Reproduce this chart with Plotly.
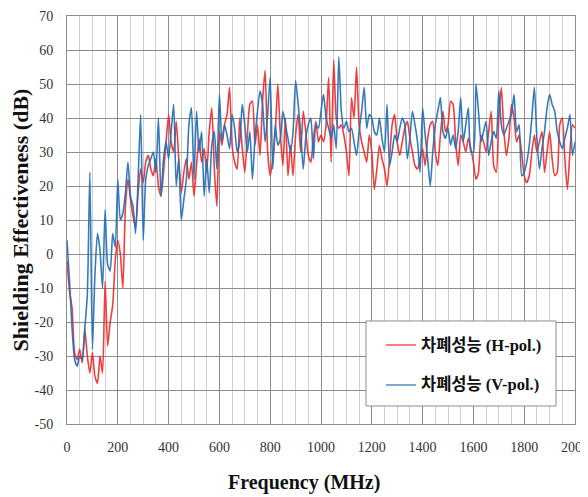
import plotly.graph_objects as go

freq_mhz = list(range(0, 2001, 10))

h_pol = [
    -2, -11, -16, -29, -31, -28, -32, -22, -30, -35,
    -29, -36, -38, -30, -35, -8, -27, -20, -15, -2,
    4, 0, -10, 14, 22, 16, 11, 8, 18, 25,
    21, 27, 29, 25, 23, 28, 20, 17, 24, 33,
    41, 33, 30, 39, 28, 18, 24, 28, 22, 27,
    17, 26, 34, 27, 31, 24, 36, 43, 25, 14,
    36, 32, 38, 41, 49, 32, 27, 25, 40, 31,
    24, 35, 44, 45, 32, 38, 29, 45, 54, 30,
    23, 28, 36, 50, 35, 26, 40, 23, 32, 23,
    35, 41, 30, 42, 36, 29, 27, 34, 39, 33,
    35, 33, 38, 52, 27, 57, 40, 37, 38, 35,
    30, 23, 46, 40, 55, 38, 33, 30, 27, 35,
    30, 19, 25, 32, 28, 25, 20, 28, 38, 41,
    33, 29, 33, 37, 39, 34, 30, 26, 25, 28,
    31, 26, 34, 38, 39, 30, 26, 35, 42, 36,
    38, 45, 44, 33, 26, 35, 33, 30, 34, 31,
    27, 22, 24, 35, 33, 30, 36, 42, 26, 24,
    40, 49, 36, 29, 34, 44, 40, 33, 35, 30,
    23, 21, 23, 30, 35, 30, 33, 36, 24, 30,
    36, 28, 23, 24, 38, 40, 28, 19, 30, 38, 37,
]

v_pol = [
    4, -8, -22, -31, -33, -30, -31, -22, -12, 24,
    -28, -6, 6, 1, -10, 13, -3, -5, 6, 2,
    22, 10, 12, 18, 27, 17, 14, 6, 22, 41,
    4, 22, 26, 28, 30, 24, 40, 17, 28, 33,
    28, 36, 44, 20, 28, 10, 16, 22, 38, 43,
    22, 42, 30, 36, 17, 28, 18, 32, 36, 25,
    47, 33, 38, 35, 31, 41, 37, 30, 33, 44,
    38, 30, 36, 22, 34, 42, 48, 44, 33, 41,
    52, 25, 38, 32, 34, 42, 38, 34, 30, 36,
    51, 44, 36, 25, 34, 38, 40, 28, 38, 37,
    42, 47, 40, 37, 34, 38, 31, 58, 42, 37,
    39, 36, 37, 33, 29, 36, 42, 49, 37, 41,
    40, 36, 35, 40, 34, 30, 44, 26, 30, 35,
    33, 37, 40, 38, 28, 34, 42, 38, 33, 24,
    43, 35, 28, 20, 30, 38, 42, 46, 36, 34,
    37, 32, 35, 31, 36, 46, 33, 38, 43, 30,
    30, 50, 42, 33, 36, 39, 29, 33, 36, 34,
    48, 38, 35, 37, 39, 41, 47, 36, 38, 23,
    24, 27, 32, 40, 49, 34, 25, 31, 36, 43,
    47, 44, 42, 36, 33, 31, 34, 37, 41, 29, 33,
]

x_ticks = list(range(0, 2001, 200))
x_tick_labels = [str(v) for v in x_ticks]
y_ticks = list(range(-50, 71, 10))
y_tick_labels = [str(v) for v in y_ticks]

name_h = "차폐성능 (H-pol.)"
name_v = "차폐성능 (V-pol.)"
color_h = "rgba(238,40,40,0.9)"
color_v = "rgba(36,112,182,0.92)"

serif = "Liberation Serif, Times New Roman, Noto Sans CJK KR, serif"

fig = go.Figure()
fig.add_trace(go.Scatter(
    x=freq_mhz, y=h_pol, mode="lines", name=name_h, showlegend=False,
    line=dict(color=color_h, width=1.6, shape="spline", smoothing=0.6),
))
fig.add_trace(go.Scatter(
    x=freq_mhz, y=v_pol, mode="lines", name=name_v, showlegend=False,
    line=dict(color=color_v, width=1.6, shape="spline", smoothing=0.6),
))

# legend box drawn by hand (paper coordinates)
fig.add_shape(type="rect", xref="paper", yref="paper",
              x0=0.5886, x1=0.9626, y0=0.0441, y1=0.2525,
              line=dict(color="#8c8c8c", width=1), fillcolor="white", layer="above")
for yv, col, nm in [(0.1936, color_h, name_h), (0.0956, color_v, name_v)]:
    fig.add_shape(type="line", xref="paper", yref="paper",
                  x0=0.6279, x1=0.6870, y0=yv, y1=yv,
                  line=dict(color=col, width=1.3), layer="above")
    fig.add_annotation(xref="paper", yref="paper", x=0.6929, y=yv,
                       xanchor="left", yanchor="middle", showarrow=False,
                       text="<b>" + nm + "</b>",
                       font=dict(family=serif, size=16.5, color="#111111"))

# x-axis title (offset slightly left of centre, as in the original)
fig.add_annotation(xref="paper", yref="paper", x=0.4665, y=-0.1446,
                   xanchor="center", yanchor="middle", showarrow=False,
                   text="<b>Frequency (MHz)</b>",
                   font=dict(family=serif, size=20, color="#111111"))

fig.update_layout(
    width=580, height=489,
    margin=dict(l=59, r=13, t=8, b=73),
    paper_bgcolor="white", plot_bgcolor="white",
    font=dict(family=serif, size=13, color="#333333"),
    xaxis=dict(
        range=[0, 2000], tickvals=x_ticks, ticktext=x_tick_labels, ticks="",
        showline=True, mirror=True, automargin=False, ticklabelstandoff=10,
        ticklabeloverflow="allow",
        linecolor="#8c8c8c", linewidth=1,
        showgrid=True, gridcolor="#8c8c8c", gridwidth=1,
        minor=dict(dtick=50, showgrid=True, gridcolor="#cfcfcf", gridwidth=1),
        zeroline=False,
        tickfont=dict(family=serif, size=14, color="#333333"),
    ),
    yaxis=dict(
        range=[-50, 70], tickvals=y_ticks, ticktext=y_tick_labels, ticks="",
        showline=True, mirror=True, automargin=False, ticklabelstandoff=10,
        ticklabeloverflow="allow",
        linecolor="#8c8c8c", linewidth=1,
        showgrid=True, gridcolor="#8c8c8c", gridwidth=1,
        zeroline=False,
        tickfont=dict(family=serif, size=14, color="#333333"),
        title=dict(text="<b>Shielding Effectiveness (dB)</b>", font=dict(family=serif, size=22, color="#111111"), standoff=3),
    ),
)

fig.write_html("out.html")
